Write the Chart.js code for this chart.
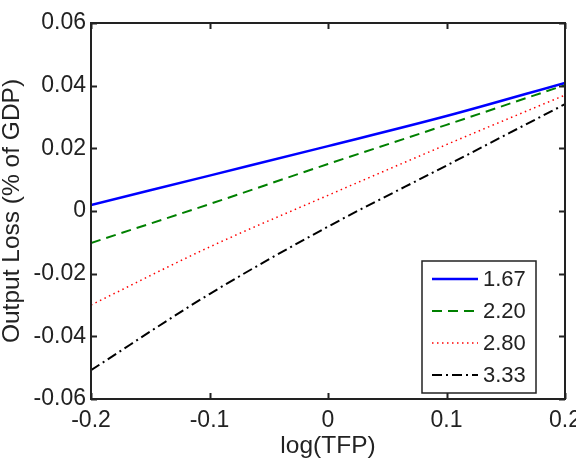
<!DOCTYPE html>
<html>
<head>
<meta charset="utf-8">
<script src="https://cdn.jsdelivr.net/npm/chart.js@4.4.0/dist/chart.umd.min.js"></script>
<style>
  html, body { margin: 0; padding: 0; background: #fff; }
  canvas { display: block; }
</style>
</head>
<body>
<canvas id="chart" width="576" height="458"></canvas>
<script>
// values
const logTFP = [-0.2, -0.1, 0, 0.1, 0.2];
const loss167 = [0.0019, 0.0113, 0.0207, 0.0303, 0.0409];
const loss220 = [-0.0102, 0.0022, 0.0150, 0.0275, 0.0402];
const loss280 = [-0.0300, -0.0115, 0.0050, 0.0212, 0.0370];
const loss333 = [-0.0508, -0.0265, -0.0050, 0.0145, 0.0341];
const seriesNames = ['1.67', '2.20', '2.80', '3.33'];

const xTicks = [-0.2, -0.1, 0, 0.1, 0.2];
const xTickLabels = ['-0.2', '-0.1', '0', '0.1', '0.2'];
const yTicks = [-0.06, -0.04, -0.02, 0, 0.02, 0.04, 0.06];
const yTickLabels = ['-0.06', '-0.04', '-0.02', '0', '0.02', '0.04', '0.06'];

const FAMILY = "'Liberation Sans', Arial, sans-serif";
const FONT = { family: FAMILY, size: 23 };
const LEGEND_SIZE = 22;
const TITLE_FONT = { family: FAMILY, size: 24.5, lineHeight: 1 };
const toPts = ys => logTFP.map((x, i) => ({ x: x, y: ys[i] }));

function line(label, ys, color, width, dash) {
  return {
    label: label,
    data: toPts(ys),
    borderColor: color,
    backgroundColor: color,
    borderWidth: width,
    borderDash: dash,
    showLine: true,
    pointRadius: 0,
    cubicInterpolationMode: 'monotone',
    fill: false
  };
}

// MATLAB style box, inward ticks and legend inside the axes
const matlabAxes = {
  id: 'matlabAxes',
  afterDraw(chart) {
    const c = chart.ctx, a = chart.chartArea;
    const xs = chart.scales.x, ys = chart.scales.y;
    c.save();
    c.strokeStyle = '#222';
    c.lineWidth = 2;
    c.setLineDash([]);
    c.strokeRect(a.left, a.top, a.right - a.left, a.bottom - a.top);
    c.beginPath();
    const tl = 6;
    xTicks.forEach(v => {
      const px = Math.round(xs.getPixelForValue(v)) + 0.5;
      c.moveTo(px, a.bottom); c.lineTo(px, a.bottom - tl);
      c.moveTo(px, a.top); c.lineTo(px, a.top + tl);
    });
    yTicks.forEach(v => {
      const py = Math.round(ys.getPixelForValue(v)) + 0.5;
      c.moveTo(a.left, py); c.lineTo(a.left + tl, py);
      c.moveTo(a.right, py); c.lineTo(a.right - tl, py);
    });
    c.stroke();

    // legend
    const bw = 114, bh = 132;
    const bx = a.right - 29 - bw, by = a.bottom - 6 - bh;
    c.fillStyle = '#fff';
    c.fillRect(bx, by, bw, bh);
    c.lineWidth = 1.5;
    c.strokeStyle = '#222';
    c.strokeRect(bx, by, bw, bh);
    c.font = LEGEND_SIZE + 'px ' + FAMILY;
    c.textBaseline = 'middle';
    c.textAlign = 'left';
    chart.data.datasets.forEach((ds, i) => {
      const yy = by + 18 + i * 32;
      c.beginPath();
      c.strokeStyle = ds.borderColor;
      c.lineWidth = ds.borderWidth;
      c.setLineDash(ds.borderDash || []);
      c.moveTo(bx + 10, yy);
      c.lineTo(bx + 56, yy);
      c.stroke();
      c.fillStyle = '#222';
      c.fillText(ds.label, bx + 61, yy + 1);
    });
    c.restore();
  }
};

const ctx = document.getElementById('chart');
const chart = new Chart(ctx, {
  type: 'scatter',
  data: {
    datasets: [
      line(seriesNames[0], loss167, '#0000ff', 2.5, []),
      line(seriesNames[1], loss220, '#008000', 2, [10, 6]),
      line(seriesNames[2], loss280, '#ff0000', 1.5, [1.5, 3.5]),
      line(seriesNames[3], loss333, '#000000', 2, [10, 4, 2, 4])
    ]
  },
  options: {
    responsive: false,
    devicePixelRatio: 1,
    animation: false,
    layout: { padding: { left: 0, right: 11, top: 23, bottom: 0 } },
    plugins: { legend: { display: false }, tooltip: { enabled: false } },
    scales: {
      x: {
        type: 'linear', min: -0.2, max: 0.2,
        afterBuildTicks: s => { s.ticks = xTicks.map(v => ({ value: v })); },
        afterFit: s => { s.height = 59; s.paddingLeft = 0; s.paddingRight = 0; },
        ticks: {
          callback: (v, i) => xTickLabels[i],
          font: FONT, color: '#222', padding: 8,
          maxRotation: 0, autoSkip: false
        },
        grid: { display: false, drawTicks: false },
        border: { display: false },
        title: { display: true, text: 'log(TFP)', font: TITLE_FONT, color: '#222', padding: 0 }
      },
      y: {
        type: 'linear', min: -0.06, max: 0.06,
        afterBuildTicks: s => { s.ticks = yTicks.map(v => ({ value: v })); },
        afterFit: s => { s.width = 91; s.paddingTop = 0; s.paddingBottom = 0; },
        ticks: {
          callback: (v, i) => yTickLabels[i],
          font: FONT, color: '#222', padding: 5, autoSkip: false
        },
        grid: { display: false, drawTicks: false },
        border: { display: false },
        title: { display: true, text: 'Output Loss (% of GDP)', font: TITLE_FONT, color: '#222', padding: 0 }
      }
    }
  },
  plugins: [matlabAxes]
});
</script>
</body>
</html>
